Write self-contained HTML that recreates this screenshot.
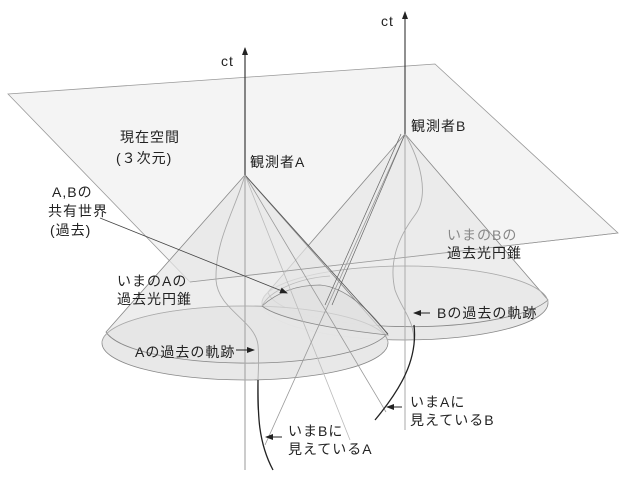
<!DOCTYPE html>
<html><head><meta charset="utf-8"><style>
body{margin:0;background:#fff}
svg{display:block}
text{font-family:"Liberation Sans","Noto Sans CJK JP",sans-serif;font-size:14px;fill:#222;letter-spacing:1px}
</style></head><body>
<svg width="624" height="480" viewBox="0 0 624 480" xmlns="http://www.w3.org/2000/svg">
<defs>
<marker id="ah" markerWidth="8" markerHeight="8" refX="7" refY="4" orient="auto" markerUnits="userSpaceOnUse"><path d="M0,1 L8,4 L0,7 Z" fill="#222"/></marker>
</defs>
<polygon points="8,94 435,64 618,233 190,282" fill="#f4f4f4" stroke="#999" stroke-width="0.8"/>
<!-- cone B -->
<ellipse cx="405" cy="303" rx="143" ry="37" fill="#e8e8e8" stroke="#888" stroke-width="0.8"/>
<path d="M405,134 L268,292 A143,37 0 0 0 548,300 Z" fill="#e8e8e8" fill-opacity="0.8" stroke="#888" stroke-width="0.8"/>
<path d="M262,303 A143,37 0 0 1 548,303" fill="none" stroke="#aaa" stroke-width="0.8"/>
<!-- cone A -->
<ellipse cx="245" cy="343" rx="143" ry="37" fill="#e6e6e6" fill-opacity="0.9" stroke="#888" stroke-width="0.8"/>
<path d="M245,175 L106,332 A143,37 0 0 0 386,335 Z" fill="#e6e6e6" fill-opacity="0.7" stroke="#888" stroke-width="0.8"/>
<path d="M102,343 A143,37 0 0 1 388,343" fill="none" stroke="#aaa" stroke-width="0.8"/>
<!-- shared region -->
<path d="M262,306 C280,290 300,285 320,285 C345,287 370,310 388,335 C340,330 280,320 262,306 Z" fill="#e0e0e0" fill-opacity="0.6" stroke="#888" stroke-width="0.8"/>
<path d="M262,306 C270,290 300,278 330,276" fill="none" stroke="#bbb" stroke-width="0.8"/>
<!-- light-cone lines -->
<line x1="245" y1="175" x2="386" y2="412" stroke="#999" stroke-width="0.8"/>
<line x1="245" y1="175" x2="350" y2="440" stroke="#bbb" stroke-width="0.8"/>
<line x1="405" y1="134" x2="265" y2="445" stroke="#999" stroke-width="0.8"/>
<line x1="405" y1="134" x2="332" y2="305" stroke="#666" stroke-width="0.7"/>
<line x1="401" y1="134" x2="325" y2="305" stroke="#666" stroke-width="0.7"/>
<line x1="245" y1="175" x2="388" y2="334" stroke="#555" stroke-width="0.8"/>
<line x1="190" y1="282" x2="618" y2="233" stroke="#999" stroke-width="0.8"/>
<!-- axes -->
<line x1="245" y1="470" x2="245" y2="48" stroke="#aaa" stroke-width="1.2"/>
<line x1="245" y1="175" x2="245" y2="48" stroke="#222" stroke-width="1" marker-end="url(#ah)"/>
<line x1="405" y1="430" x2="405" y2="12" stroke="#aaa" stroke-width="1"/>
<line x1="405" y1="134" x2="405" y2="12" stroke="#222" stroke-width="1" marker-end="url(#ah)"/>
<!-- trajectories -->
<path d="M245,175 C235,210 215,240 216,280 C218,310 255,320 258,345 C260,370 256,390 258,410" fill="none" stroke="#aaa" stroke-width="0.9"/>
<path d="M258,380 C258,410 257,440 273,470" fill="none" stroke="#222" stroke-width="1.3"/>
<path d="M405,134 C420,160 430,195 415,215 C400,235 388,260 395,290 C402,310 415,320 414,345" fill="none" stroke="#aaa" stroke-width="0.9"/>
<path d="M414,325 C418,360 400,390 375,420" fill="none" stroke="#222" stroke-width="1.3"/>
<line x1="100" y1="218" x2="287" y2="293" stroke="#444" stroke-width="0.8" marker-end="url(#ah)"/>
<line x1="236" y1="350" x2="254" y2="350" stroke="#222" marker-end="url(#ah)"/>
<line x1="430" y1="313" x2="414" y2="313" stroke="#222" marker-end="url(#ah)"/>
<line x1="402" y1="407" x2="387" y2="407" stroke="#222" marker-end="url(#ah)"/>
<line x1="282" y1="437" x2="266" y2="437" stroke="#222" marker-end="url(#ah)"/>
<!-- text -->
<text x="221" y="66" font-size="15">ct</text>
<text x="381" y="26" font-size="15">ct</text>
<text x="120" y="142" font-size="15">現在空間</text>
<text x="116" y="163" font-size="15">(３次元)</text>
<text x="250" y="167">観測者A</text>
<text x="411" y="131">観測者B</text>
<text x="52" y="197">A,Bの</text>
<text x="48" y="216">共有世界</text>
<text x="50" y="235">(過去)</text>
<text x="447" y="240" style="fill:#888">いまのBの</text>
<text x="447" y="258">過去光円錐</text>
<text x="117" y="286">いまのAの</text>
<text x="117" y="304">過去光円錐</text>
<text x="135" y="357">Aの過去の軌跡</text>
<text x="437" y="318">Bの過去の軌跡</text>
<text x="410" y="407">いまAに</text>
<text x="410" y="425">見えているB</text>
<text x="288" y="436">いまBに</text>
<text x="288" y="454">見えているA</text>
</svg>
</body></html>
